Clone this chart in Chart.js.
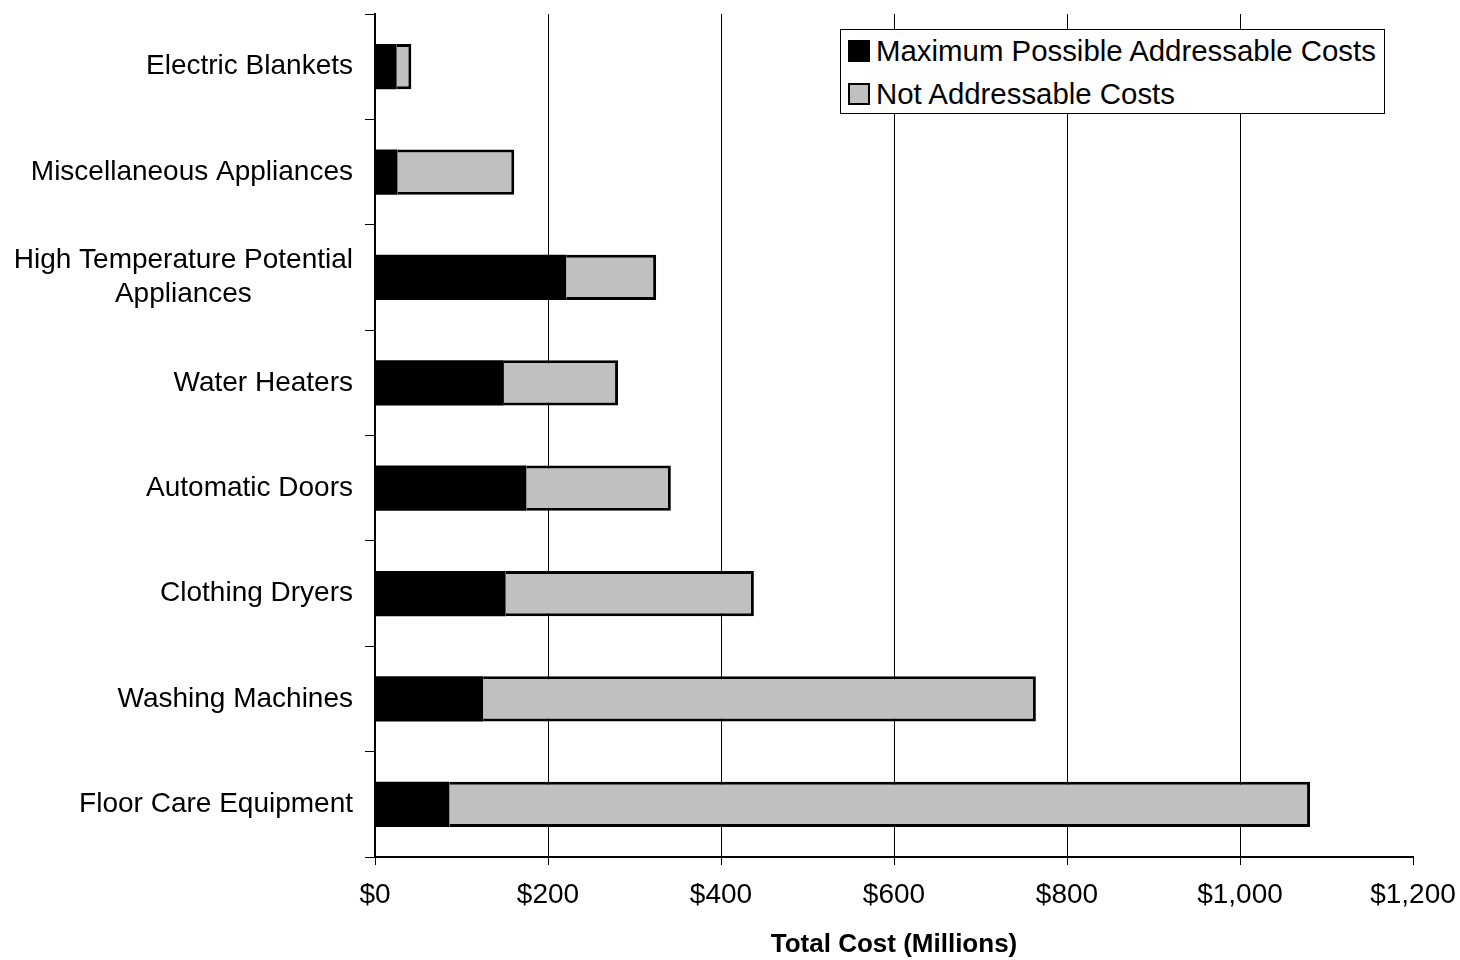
<!DOCTYPE html>
<html>
<head>
<meta charset="utf-8">
<script src="https://cdn.jsdelivr.net/npm/chart.js@4"></script>
<style>
  html, body { margin: 0; padding: 0; background: #fff; }
  .wrap { position: relative; width: 1460px; height: 960px; }
  #legend {
    position: absolute; left: 840px; top: 29px; width: 543px; height: 83px;
    border: 1px solid #000; background: #fff;
    font-family: "Liberation Sans", Arial, sans-serif; font-size: 29.4px; color: #000;
  }
  .row { position: absolute; left: 7px; height: 30px; display: flex; align-items: center; white-space: nowrap; }
  .box { width: 18px; height: 18px; border: 2px solid #000; margin-right: 6px; }
</style>
</head>
<body>
<div class="wrap">
  <canvas id="chart" width="1460" height="960"></canvas>
  <div id="legend">
    <div class="row" style="top:6px"><span class="box" style="background:#000"></span>Maximum Possible Addressable Costs</div>
    <div class="row" style="top:49px"><span class="box" style="background:#c0c0c0"></span>Not Addressable Costs</div>
  </div>
</div>
<script>
const categories = [
  'Electric Blankets',
  'Miscellaneous Appliances',
  ['High Temperature Potential', 'Appliances'],
  'Water Heaters',
  'Automatic Doors',
  'Clothing Dryers',
  'Washing Machines',
  'Floor Care Equipment'
]
const addressable = [25, 26, 221, 149, 175, 151, 125, 86]
const notAddressable = [17, 135, 104, 132, 167, 287, 639, 995]
const xTicks = [0, 200, 400, 600, 800, 1000, 1200]

const font = '"Liberation Sans", Arial, sans-serif'

const ctx = document.getElementById('chart').getContext('2d')
new Chart(ctx, {
  type: 'bar',
  data: {
    labels: categories,
    datasets: [
      {
        label: 'Maximum Possible Addressable Costs',
        data: addressable,
        backgroundColor: '#000',
        borderWidth: 0
      },
      {
        label: 'Not Addressable Costs',
        data: notAddressable,
        backgroundColor: '#c0c0c0',
        borderColor: '#000',
        borderWidth: 3,
        borderSkipped: 'start'
      }
    ]
  },
  options: {
    indexAxis: 'y',
    responsive: false,
    animation: false,
    devicePixelRatio: 1,
    datasets: { bar: { categoryPercentage: 1, barPercentage: 0.43 } },
    layout: { padding: { top: 14, right: 47, left: 0, bottom: 0 } },
    plugins: {
      legend: { display: false },
      tooltip: { enabled: false }
    },
    scales: {
      x: {
        stacked: true,
        min: xTicks[0],
        max: xTicks[xTicks.length - 1],
        afterBuildTicks: scale => { scale.ticks = xTicks.map(v => ({ value: v })) },
        afterFit: scale => {
          scale.height = 103
          scale.paddingLeft = 0
          scale.paddingRight = 0
        },
        ticks: {
          color: '#000',
          padding: 13,
          font: { family: font, size: 28 },
          callback: v => '$' + v.toLocaleString('en-US')
        },
        grid: {
          color: c => (c.tick && c.tick.value === 1200) ? 'rgba(0,0,0,0)' : '#000',
          tickColor: '#000',
          lineWidth: 1,
          tickLength: 8
        },
        border: { color: '#000', width: 2 },
        title: {
          display: true,
          text: 'Total Cost (Millions)',
          color: '#000',
          font: { family: font, size: 26, weight: 'bold' },
          padding: { top: 0, bottom: 0 }
        }
      },
      y: {
        stacked: true,
        afterFit: scale => {
          scale.width = 375
          scale.paddingTop = 0
          scale.paddingBottom = 0
        },
        ticks: {
          color: '#000',
          padding: 12,
          font: { family: font, size: 28 },
          callback: function (v) {
            const lbl = this.getLabelForValue(v)
            // second line sits centred under the first, like the original
            return Array.isArray(lbl) ? [lbl[0], lbl[1] + ' '.repeat(13)] : lbl
          }
        },
        grid: {
          drawOnChartArea: false,
          offset: true,
          color: '#000',
          tickLength: 10
        },
        border: { color: '#000', width: 2 }
      }
    }
  }
})
</script>
</body>
</html>
